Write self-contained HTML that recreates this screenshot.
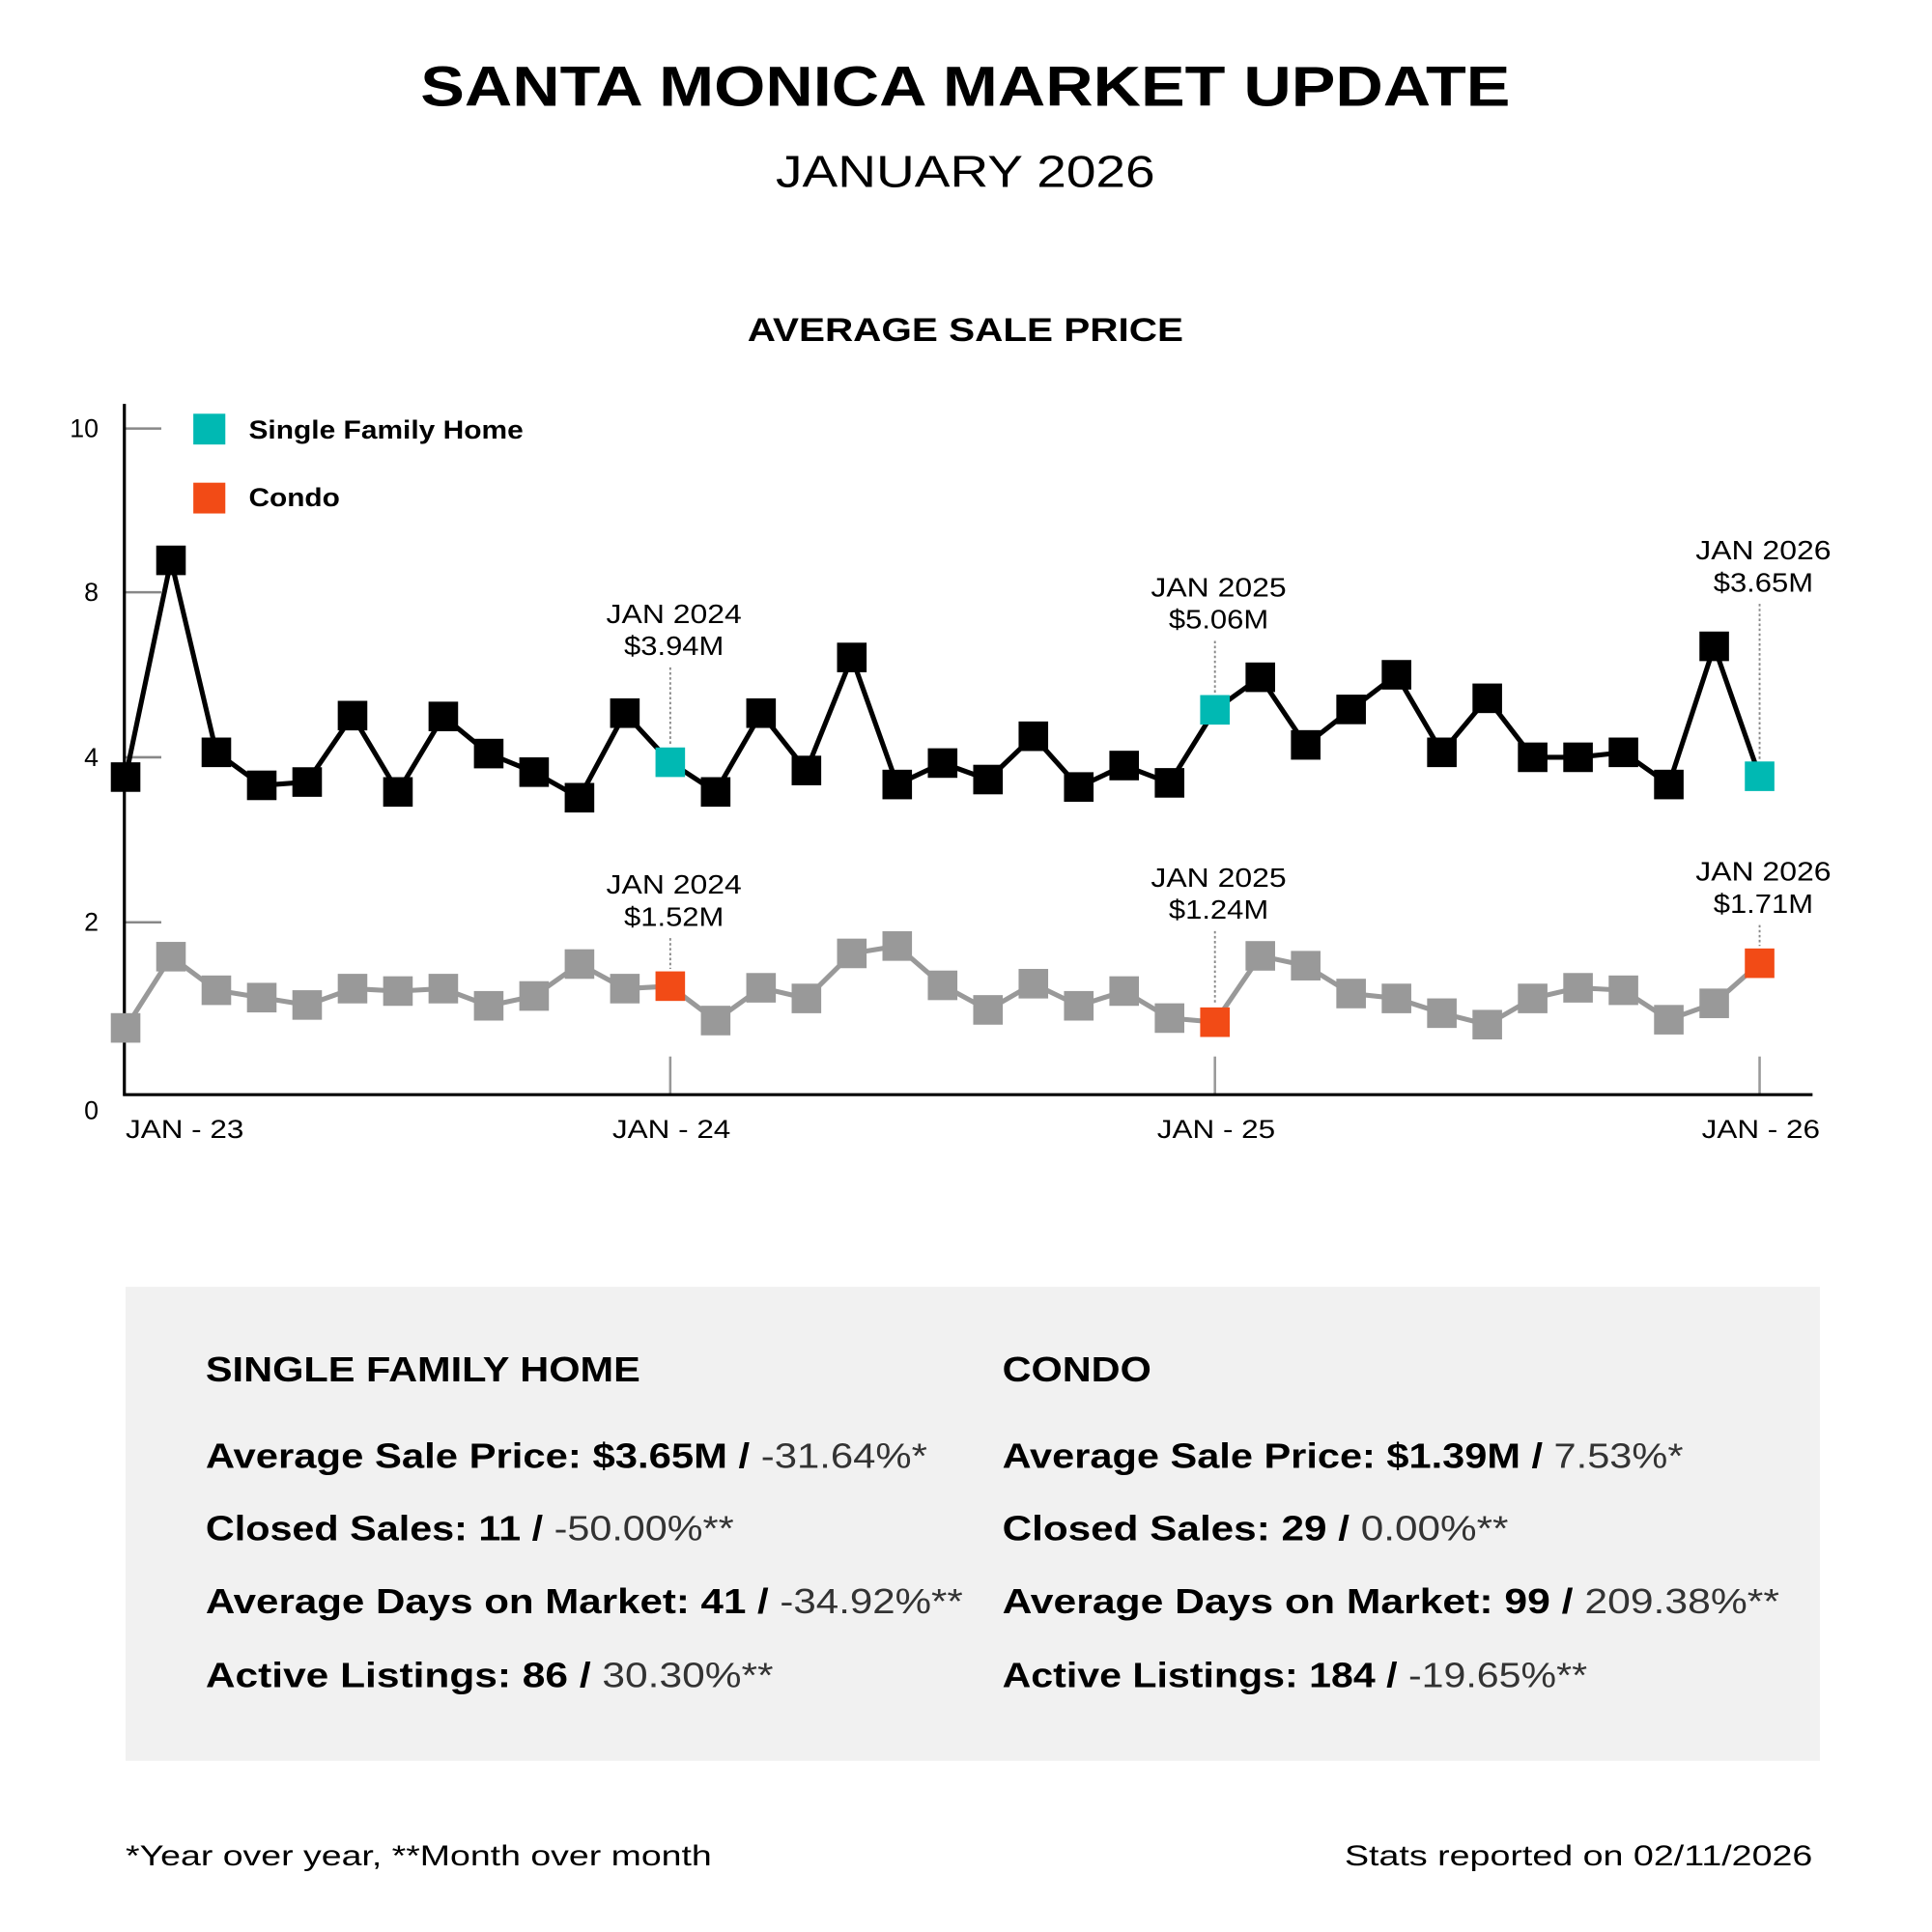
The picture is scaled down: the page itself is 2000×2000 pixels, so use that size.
<!DOCTYPE html>
<html><head><meta charset="utf-8"><style>
html,body{margin:0;padding:0;background:#fff}
svg{display:block}
text{font-family:"Liberation Sans",sans-serif}
</style></head><body>
<svg id="chart" width="2000" height="2000" viewBox="0 0 1569 1569" xmlns="http://www.w3.org/2000/svg">
<text x="784" y="86" text-anchor="middle" font-size="46" font-weight="bold" textLength="885" lengthAdjust="spacingAndGlyphs">SANTA MONICA MARKET UPDATE</text>
<text x="784" y="152" text-anchor="middle" font-size="36" textLength="308" lengthAdjust="spacingAndGlyphs">JANUARY 2026</text>
<text x="784" y="277" text-anchor="middle" font-size="27" font-weight="bold" textLength="354" lengthAdjust="spacingAndGlyphs">AVERAGE SALE PRICE</text>
<g id="axes"></g>
<g id="plot"></g>
<g>
<rect x="157" y="336" width="26" height="25" fill="#00b9b3"/>
<text x="202" y="356" font-size="21" font-weight="bold" textLength="223" lengthAdjust="spacingAndGlyphs">Single Family Home</text>
<rect x="157" y="392" width="26" height="25" fill="#f24b16"/>
<text x="202" y="411" font-size="21" font-weight="bold" textLength="74" lengthAdjust="spacingAndGlyphs">Condo</text>
</g>
<rect x="102" y="1045" width="1376" height="385" fill="#f1f1f1"/>
<g font-size="28">
<text x="167" y="1122" font-size="28" font-weight="bold" textLength="353" lengthAdjust="spacingAndGlyphs">SINGLE FAMILY HOME</text>
<text x="814" y="1122" font-size="28" font-weight="bold" textLength="121" lengthAdjust="spacingAndGlyphs">CONDO</text>
<text x="167" y="1192" textLength="586" lengthAdjust="spacingAndGlyphs"><tspan font-weight="bold">Average Sale Price: $3.65M / </tspan><tspan fill="#333">-31.64%*</tspan></text>
<text x="167" y="1251" textLength="429" lengthAdjust="spacingAndGlyphs"><tspan font-weight="bold">Closed Sales: 11 / </tspan><tspan fill="#333">-50.00%**</tspan></text>
<text x="167" y="1310" textLength="615" lengthAdjust="spacingAndGlyphs"><tspan font-weight="bold">Average Days on Market: 41 / </tspan><tspan fill="#333">-34.92%**</tspan></text>
<text x="167" y="1370" textLength="461" lengthAdjust="spacingAndGlyphs"><tspan font-weight="bold">Active Listings: 86 / </tspan><tspan fill="#333">30.30%**</tspan></text>
<text x="814" y="1192" textLength="553" lengthAdjust="spacingAndGlyphs"><tspan font-weight="bold">Average Sale Price: $1.39M / </tspan><tspan fill="#333">7.53%*</tspan></text>
<text x="814" y="1251" textLength="411" lengthAdjust="spacingAndGlyphs"><tspan font-weight="bold">Closed Sales: 29 / </tspan><tspan fill="#333">0.00%**</tspan></text>
<text x="814" y="1310" textLength="631" lengthAdjust="spacingAndGlyphs"><tspan font-weight="bold">Average Days on Market: 99 / </tspan><tspan fill="#333">209.38%**</tspan></text>
<text x="814" y="1370" textLength="475" lengthAdjust="spacingAndGlyphs"><tspan font-weight="bold">Active Listings: 184 / </tspan><tspan fill="#333">-19.65%**</tspan></text>
</g>
<text x="102" y="1515" font-size="23" textLength="476" lengthAdjust="spacingAndGlyphs">*Year over year, **Month over month</text>
<text x="1472" y="1515" font-size="23" text-anchor="end" textLength="380" lengthAdjust="spacingAndGlyphs">Stats reported on 02/11/2026</text>
</svg>
<script>
const tickValues = [0, 2, 4, 8, 10];
const xLabels = ["JAN - 23", "JAN - 24", "JAN - 25", "JAN - 26"];
const xLabelIndex = [0, 12, 24, 36];
const sfhValues = [3.76,8.39,4.12,3.66,3.70,5.01,3.58,4.99,4.09,3.82,3.51,5.07,3.94,3.58,5.07,3.84,6.42,3.67,3.93,3.73,4.51,3.64,3.90,3.69,5.15,5.94,4.30,5.16,6.00,4.12,5.43,4.00,4.00,4.12,3.67,6.69,3.77];
const condoValues = [0.71,1.58,1.17,1.08,0.99,1.19,1.16,1.19,0.98,1.10,1.49,1.19,1.22,0.80,1.20,1.07,1.62,1.71,1.23,0.93,1.25,0.98,1.16,0.83,0.78,1.59,1.47,1.13,1.07,0.89,0.75,1.07,1.20,1.17,0.81,1.01,1.50];
const highlightIndex = [12, 24, 36];
const highlightYears = ["JAN 2024", "JAN 2025", "JAN 2026"];
const sfhLabels = ["$3.94M", "$5.06M", "$3.65M"];
const condoLabels = ["$1.52M", "$1.24M", "$1.71M"];

const NS = "http://www.w3.org/2000/svg";
const X0 = 102, DX = (1429 - 102) / 36;
const tickPix = [882, 749, 615, 481, 348];
function xs(i){ return X0 + i*DX; }
function ys(v){
  for (let k=0;k<tickValues.length-1;k++){
    const a=tickValues[k], b=tickValues[k+1];
    if (v<=b || k===tickValues.length-2){
      return tickPix[k] + (v-a)/(b-a)*(tickPix[k+1]-tickPix[k]);
    }
  }
}
function mk(tag, attrs, parent){
  const e=document.createElementNS(NS,tag);
  for (const k in attrs) e.setAttribute(k, attrs[k]);
  parent.appendChild(e); return e;
}
const axes=document.getElementById('axes');
const plot=document.getElementById('plot');
tickValues.forEach((v,k)=>{
  if (v>0){
    const t=mk('line',{x1:102,x2:131,y1:ys(v),y2:ys(v),stroke:'#888','stroke-width':2},axes);
    
    
  }
  const l=mk('text',{x:80,y:(v===0?909:ys(v)+7),'text-anchor':'end','font-size':21},axes);
  l.textContent=String(v);
  
  
});
xLabelIndex.forEach((idx,k)=>{
  if (idx>0){
    const t=mk('line',{x1:xs(idx),x2:xs(idx),y1:858,y2:889,stroke:'#999','stroke-width':2},axes);
    
    
  }
  const l=mk('text',{x:idx===0?102:xs(idx)+1,y:924,'text-anchor':idx===0?'start':'middle','font-size':21,textLength:96,lengthAdjust:'spacingAndGlyphs'},axes);
  l.textContent=xLabels[k];
  
  
});
const ya=mk('line',{x1:101,x2:101,y1:328,y2:890,stroke:'#000','stroke-width':2.5},axes);


const xa=mk('line',{x1:100,x2:1472,y1:889,y2:889,stroke:'#000','stroke-width':2.5},axes);



function series(vals, lineColor, markColor, hiColor, name){
  const pts=vals.map((v,i)=>xs(i).toFixed(1)+','+ys(v).toFixed(1)).join(' ');
  const pl=mk('polyline',{points:pts,fill:'none',stroke:lineColor,'stroke-width':4,'stroke-linejoin':'miter'},plot);
  
  
  vals.forEach((v,i)=>{
    const hi=highlightIndex.indexOf(i)>=0;
    const r=mk('rect',{x:xs(i)-12,y:ys(v)-12,width:24,height:24,fill:hi?hiColor:markColor},plot);
    
    
  });
}
series(condoValues,'#999','#999','#f24b16','condo');
series(sfhValues,'#000','#000','#00b9b3','sfh');

function annot(vals, labels, name, gapTop){
  highlightIndex.forEach((idx,k)=>{
    const x=xs(idx), y=ys(vals[idx]);
    const top=y-12-gapTop[k];
    const d=mk('line',{x1:x,x2:x,y1:top,y2:y-14,stroke:'#888','stroke-width':1.5,'stroke-dasharray':'2,2'},plot);
    
    
    const t1=mk('text',{x:x+3,y:top-36,'text-anchor':'middle','font-size':22,textLength:110,lengthAdjust:'spacingAndGlyphs'},plot);
    t1.textContent=highlightYears[k];
    
    
    const t2=mk('text',{x:x+3,y:top-10,'text-anchor':'middle','font-size':22,textLength:(labels[k].length===6?81:78),lengthAdjust:'spacingAndGlyphs'},plot);
    t2.textContent=labels[k];
    
    
  });
}
annot(sfhValues, sfhLabels, 'sfh', [65, 44, 128]);
annot(condoValues, condoLabels, 'condo', [27, 62, 19]);
</script>
</body></html>
